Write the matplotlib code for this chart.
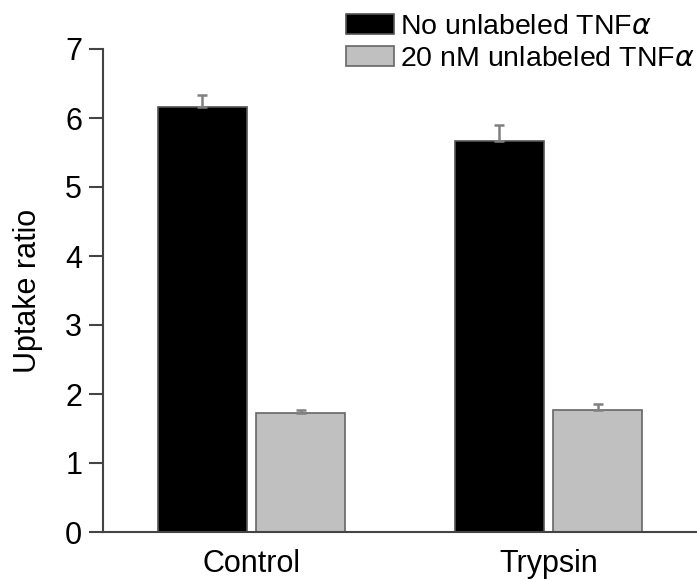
import numpy as np
import matplotlib.pyplot as plt
from matplotlib.patches import Patch

plt.rcParams['font.family'] = ['Liberation Sans', 'DejaVu Sans']

gruppi = ['Control', 'Trypsin']
no_unlab = [6.16, 5.66]
no_unlab_err = [0.17, 0.24]
unlab_20 = [1.72, 1.77]
unlab_20_err = [0.05, 0.09]
serie = [r'No unlabeled TNF$\alpha$', r'20 nM unlabeled TNF$\alpha$']

W, H = 697, 581
fig = plt.figure(figsize=(W / 100, H / 100), dpi=100)
ax = fig.add_axes([103 / W, (H - 532) / H, 1 - 103 / W, (532 - 49) / H])

x = np.arange(len(gruppi))
w = 0.30
off = 0.166
ekw = dict(ecolor='#808080', elinewidth=1.8, capsize=3.5, capthick=1.8)
# solo barre d'errore verso l'alto
ax.bar(x - off, no_unlab, w, color='black', edgecolor='#555555', linewidth=1.2,
       yerr=[np.zeros(2), no_unlab_err], error_kw=ekw)
ax.bar(x + off, unlab_20, w, color='#c0c0c0', edgecolor='#666666', linewidth=1.2,
       yerr=[np.zeros(2), unlab_20_err], error_kw=ekw)

ax.set_xlim(-0.5, 1.5)
ax.set_ylim(0, 7)
ax.set_yticks(range(8))
ax.set_xticks(x)
ax.set_xticklabels(gruppi)
ax.tick_params(axis='x', length=0, pad=12, labelsize=22)
ax.tick_params(axis='y', length=10, width=1.5, color='#444444', pad=5, labelsize=22)
for s in ['top', 'right']:
    ax.spines[s].set_visible(False)
for s in ['left', 'bottom']:
    ax.spines[s].set_linewidth(1.5)
    ax.spines[s].set_color('#444444')
ax.set_ylabel('Uptake ratio', fontsize=22, labelpad=16)

handles = [Patch(facecolor='black', edgecolor='#555555', linewidth=1.2),
           Patch(facecolor='#c0c0c0', edgecolor='#666666', linewidth=1.2)]
fig.legend(handles, serie, loc='upper left', bbox_to_anchor=(346 / W, 1 - 14 / H),
           frameon=False, fontsize=20.5, handlelength=1.7, handleheight=0.7,
           handletextpad=0.2, labelspacing=0.2, borderpad=0, borderaxespad=0)

plt.savefig('out.png', dpi=100)
